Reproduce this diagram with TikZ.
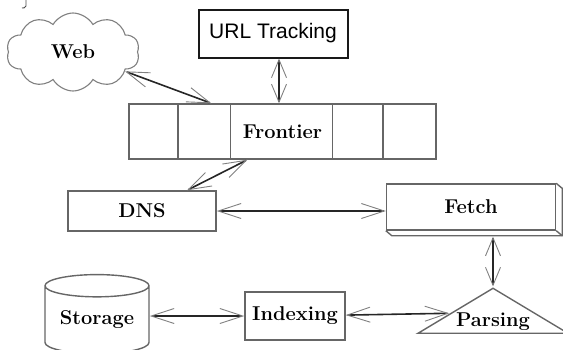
\documentclass[tikz,border=0pt]{standalone}
\usepackage{fontspec}
\newfontfamily\urlfont{Liberation Sans}
\usetikzlibrary{shapes.geometric,shapes.symbols,arrows.meta}

\tikzset{
  outline/.style={draw=black!60, line width=1.4pt},
  block/.style={outline, rectangle, inner sep=0pt, font=\bfseries\fontsize{20}{22}\selectfont},
  link/.style={line width=1.6pt, black!85,
    >={Straight Barb[length=23pt,width=15pt,line width=0.9pt,color=black!50]}, <->},
  shortlink/.style={link, >={Straight Barb[length=18pt,width=15pt,line width=0.9pt,color=black!50]}},
}

\begin{document}
\begin{tikzpicture}[x=1pt,y=-1pt]
\useasboundingbox (0,0) rectangle (563,349);
% nodes
\node[block, draw=black!50, line width=1.1pt, shape=cloud, cloud puffs=10, cloud puff arc=120,
      cloud ignores aspect, minimum width=133pt, minimum height=78pt] (web) at (73,52) {Web};
\node[block, draw=black!90, line width=2pt, minimum width=149pt, minimum height=48pt,
      font=\urlfont\fontsize{21}{24}\selectfont] (url) at (273,33.5) {URL Tracking};
\node[block, minimum width=307pt, minimum height=55pt] (frontier) at (282.5,131.5) {Frontier};
\foreach \dx in {49.5,102,204,254.5}
  \draw[outline] ([xshift=\dx pt]frontier.north west) -- ([xshift=\dx pt]frontier.south west);
\node[block, minimum width=148pt, minimum height=40pt] (dns) at (142,211) {DNS};
\node[block, minimum width=169pt, minimum height=46pt] (fetch) at (471,207) {Fetch};
\draw[outline] (fetch.north east) -- ([shift={(6,5)}]fetch.north east)
  -- ([shift={(6,5)}]fetch.south east) -- ([shift={(6,5)}]fetch.south west) -- (fetch.south west);
\draw[outline] (fetch.south east) -- ([shift={(6,5)}]fetch.south east);
\node[block, cylinder, shape border rotate=90, aspect=0.3,
      minimum width=104pt, minimum height=79pt] (storage) at (97,320) {Storage};
\node[block, minimum width=100pt, minimum height=48pt] (indexing) at (295,316) {Indexing};
\node[block, isosceles triangle, isosceles triangle stretches, shape border rotate=90,
      minimum width=150pt, minimum height=45pt]
      (parsing) at (493,312.5) {\smash{\makebox[0pt]{\raisebox{-13.5pt}{Parsing}}}};
% stray mark at the top edge
\draw[black!70, line width=0.9pt] (26,0) -- (26,6) to[bend left=40] (22,8);
% connectors
\draw[link] (web) -- ([xshift=83pt]frontier.north west);
\draw[shortlink] ([xshift=6pt]url.south) -- ([xshift=6pt]url.south |- frontier.north);
\draw[link] ([xshift=45pt]dns.north) -- ([xshift=-35pt]frontier.south);
\draw[link] (dns.east) -- (dns.east -| fetch.west);
\draw[shortlink] ([yshift=-6pt]parsing.apex |- fetch.south) -- (parsing.apex);
\draw[link] (storage.east |- indexing.west) -- (indexing.west);
\draw[link] (indexing) -- (parsing);
\end{tikzpicture}
\end{document}
